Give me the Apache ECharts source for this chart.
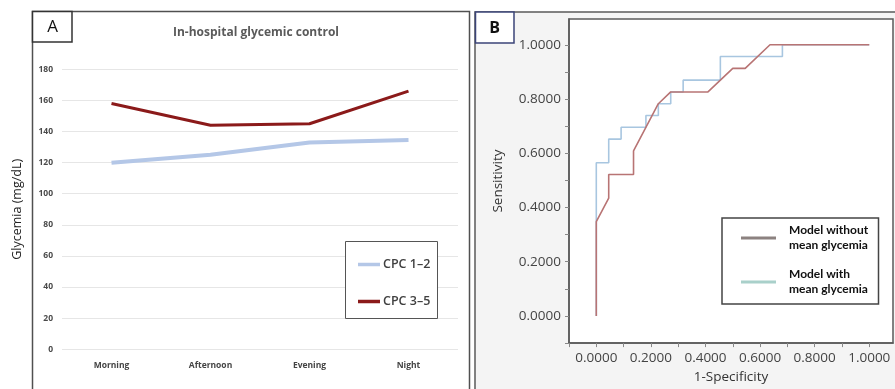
<!DOCTYPE html>
<html>
<head>
<meta charset="utf-8">
<script src="https://cdn.jsdelivr.net/npm/echarts@6/dist/echarts.min.js"></script>
<style>html,body{margin:0;padding:0;background:#fff;}#c{width:895px;height:389px;}</style>
</head>
<body>
<div id="c"></div>
<script>
// ---- Panel A data ----
const timeCategories = ['Morning', 'Afternoon', 'Evening', 'Night'];
const cpc12Values = [120, 125, 133, 134.5];
const cpc35Values = [158, 144, 145, 166];
const glycemiaTicks = [0, 20, 40, 60, 80, 100, 120, 140, 160, 180];

// ---- Panel B data (ROC curves) ----
const withoutX = [0, 0, 0.0455, 0.0455, 0.1364, 0.1364, 0.2273, 0.2727, 0.4091, 0.5000, 0.5455, 0.6364, 1.0000];
const withoutY = [0, 0.3478, 0.4348, 0.5217, 0.5217, 0.6087, 0.7826, 0.8261, 0.8261, 0.9130, 0.9130, 1.0000, 1.0000];
const withX = [0, 0, 0.0455, 0.0455, 0.0909, 0.0909, 0.1818, 0.1818, 0.2273, 0.2273, 0.2727, 0.2727, 0.3182, 0.3182, 0.4545, 0.4545, 0.6818, 0.6818, 1.0000];
const withY = [0, 0.5652, 0.5652, 0.6522, 0.6522, 0.6957, 0.6957, 0.7391, 0.7391, 0.7826, 0.7826, 0.8261, 0.8261, 0.8696, 0.8696, 0.9565, 0.9565, 1.0000, 1.0000];
const rocLabelTicks = [0, 0.2, 0.4, 0.6, 0.8, 1.0];
const rocMinorTicks = [-0.1, 0, 0.1, 0.2, 0.3, 0.4, 0.5, 0.6, 0.7, 0.8, 0.9, 1.0];

const pairs = (xs, ys) => xs.map((x, i) => [x, ys[i]]);

const chart = echarts.init(document.getElementById('c'));
const fontA = '"Open Sans", "Liberation Sans", sans-serif';
const fontB = '"Open Sans", "Noto Sans", sans-serif';
const fontLeg = 'Lato, "Open Sans", sans-serif';

const option = {
  animation: false,
  backgroundColor: '#ffffff',
  title: {
    text: 'In-hospital glycemic control',
    left: 251, top: 22, textAlign: 'center',
    textStyle: { fontFamily: fontA, fontSize: 12, fontWeight: 'bold', color: '#5a5a5a' }
  },
  graphic: [
    { type: 'rect', z: -10, shape: { x: 32.5, y: 11.5, width: 437, height: 390 },
      style: { fill: '#ffffff', stroke: '#505050', lineWidth: 1.5 } },
    { type: 'rect', z: -10, shape: { x: 475, y: 12, width: 430, height: 390 },
      style: { fill: '#f4f4f4', stroke: '#5a5a5a', lineWidth: 1.5 } },
    { type: 'rect', z: 50, shape: { x: 32.5, y: 11.5, width: 39.5, height: 30.5 },
      style: { fill: '#ffffff', stroke: '#333333', lineWidth: 1.5 } },
    { type: 'text', z: 51, x: 52.5, y: 27, style: { text: 'A', font: '17px ' + fontA, fill: '#111', align: 'center', verticalAlign: 'middle' } },
    { type: 'rect', z: 50, shape: { x: 475.5, y: 12, width: 38.5, height: 31 },
      style: { fill: '#ffffff', stroke: '#3b4478', lineWidth: 1.5 } },
    { type: 'text', z: 51, x: 494.5, y: 28, style: { text: 'B', font: 'bold 16px ' + fontB, fill: '#111', align: 'center', verticalAlign: 'middle' } },
    // legend boxes
    { type: 'rect', z: 5, shape: { x: 345.5, y: 241.5, width: 92, height: 77 },
      style: { fill: '#ffffff', stroke: '#555555', lineWidth: 1 } },
    { type: 'rect', z: 5, shape: { x: 722, y: 218, width: 156.5, height: 86 },
      style: { fill: '#ffffff', stroke: '#444444', lineWidth: 1.5 } }
  ],
  grid: [
    { left: 62, top: 69.3, width: 396, height: 280 },
    { left: 569, top: 19, width: 324, height: 325, show: true, backgroundColor: '#ffffff', borderColor: '#5a5a5a', borderWidth: 1.5 }
  ],
  legend: [
    {
      left: 353, top: 253, orient: 'vertical', itemGap: 24,
      icon: 'rect', itemWidth: 22, itemHeight: 3.5, z: 10,
      data: ['CPC 1–2', 'CPC 3–5'],
      textStyle: { fontFamily: fontA, fontSize: 12.5, color: '#404040', fontWeight: 600, padding: [0, 0, 0, -2] }
    },
    {
      left: 736, top: 218, orient: 'vertical', itemGap: 14,
      icon: 'rect', itemWidth: 35, itemHeight: 3, z: 10,
      data: [
        { name: 'Model without mean glycemia', itemStyle: { color: '#8c8280' } },
        { name: 'Model with mean glycemia', itemStyle: { color: '#a9d0ca' } }
      ],
      formatter: n => n.replace(' mean', '\nmean'),
      textStyle: { fontFamily: fontLeg, fontSize: 12, fontWeight: 'bold', color: '#111', lineHeight: 15, padding: [0, 0, 0, 8] }
    }
  ],
  xAxis: [
    {
      type: 'category', gridIndex: 0, data: timeCategories, boundaryGap: true,
      axisLine: { show: false }, axisTick: { show: false },
      axisLabel: { margin: 12, fontFamily: fontA, fontSize: 8.5, fontWeight: 'bold', color: '#444' }
    },
    {
      type: 'value', gridIndex: 1, min: -0.1, max: 1.087,
      name: '1-Specificity', nameLocation: 'middle', nameGap: 26,
      nameTextStyle: { fontFamily: fontB, fontSize: 13.5, color: '#333' },
      axisLine: { show: true, onZero: false, lineStyle: { color: '#5a5a5a', width: 1.5 } },
      axisTick: { show: true, length: 4, customValues: rocMinorTicks, lineStyle: { color: '#888' } },
      axisLabel: { margin: 8, customValues: rocLabelTicks, formatter: v => v.toFixed(4), fontFamily: fontB, fontSize: 13.5, color: '#444' },
      splitLine: { show: false }
    }
  ],
  yAxis: [
    {
      type: 'value', gridIndex: 0, min: 0, max: 180, interval: 20,
      name: 'Glycemia (mg/dL)', nameLocation: 'middle', nameGap: 38,
      nameTextStyle: { fontFamily: fontA, fontSize: 12.5, color: '#222' },
      axisLine: { show: false }, axisTick: { show: false },
      axisLabel: { margin: 9, customValues: glycemiaTicks, fontFamily: fontA, fontSize: 8.5, fontWeight: 'bold', color: '#4a4a4a' },
      splitLine: { lineStyle: { color: '#e6e6e6', width: 1 } }
    },
    {
      type: 'value', gridIndex: 1, min: -0.1, max: 1.095,
      name: 'Sensitivity', nameLocation: 'middle', nameGap: 64,
      nameTextStyle: { fontFamily: fontB, fontSize: 13.5, color: '#333' },
      axisLine: { show: true, onZero: false, lineStyle: { color: '#5a5a5a', width: 1.5 } },
      axisTick: { show: true, length: 4, customValues: rocMinorTicks, lineStyle: { color: '#888' } },
      axisLabel: { margin: 8, customValues: rocLabelTicks, formatter: v => v.toFixed(4), fontFamily: fontB, fontSize: 13.5, color: '#444' },
      splitLine: { show: false }
    }
  ],
  series: [
    { name: 'CPC 1–2', type: 'line', xAxisIndex: 0, yAxisIndex: 0, data: cpc12Values, symbol: 'none',
      lineStyle: { color: '#b4c7e7', width: 4 }, itemStyle: { color: '#b4c7e7' }, z: 3 },
    { name: 'CPC 3–5', type: 'line', xAxisIndex: 0, yAxisIndex: 0, data: cpc35Values, symbol: 'none',
      lineStyle: { color: '#8b1a1a', width: 3 }, itemStyle: { color: '#8b1a1a' }, z: 3 },
    { name: 'Model with mean glycemia', type: 'line', xAxisIndex: 1, yAxisIndex: 1, data: pairs(withX, withY), symbol: 'none',
      lineStyle: { color: '#a8c6e0', width: 1.6 }, itemStyle: { color: '#a8c6e0' }, z: 3 },
    { name: 'Model without mean glycemia', type: 'line', xAxisIndex: 1, yAxisIndex: 1, data: pairs(withoutX, withoutY), symbol: 'none',
      lineStyle: { color: '#b87474', width: 1.6 }, itemStyle: { color: '#b87474' }, z: 4 }
  ]
};
chart.setOption(option);
</script>
</body>
</html>
